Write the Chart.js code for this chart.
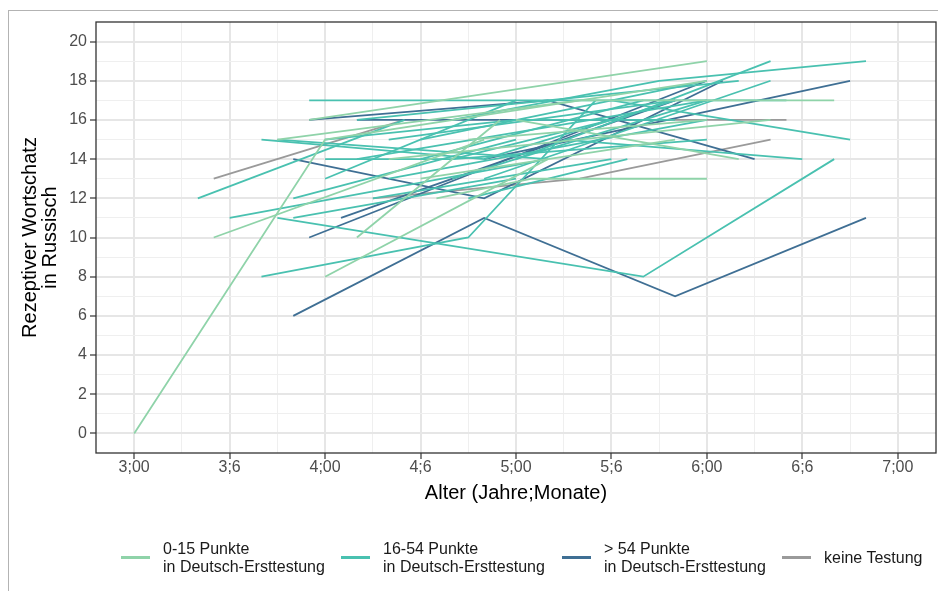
<!DOCTYPE html>
<html>
<head>
<meta charset="utf-8">
<script src="https://cdn.jsdelivr.net/npm/chart.js@4.4.0/dist/chart.umd.min.js"></script>
<style>
html,body{margin:0;padding:0;background:#fff;}
#wrap{position:relative;width:938px;height:591px;overflow:hidden;background:#fff;}
#frame{position:absolute;left:8px;top:10px;width:1000px;height:700px;border:1.5px solid #b3b3b3;box-sizing:border-box;}
#c{position:absolute;left:0;top:0;}
.key{position:absolute;width:29px;height:2.5px;}
.lab{position:absolute;font-family:"Liberation Sans",Arial,sans-serif;font-size:16px;line-height:18px;color:#1a1a1a;white-space:nowrap;}
</style>
</head>
<body>
<div id="wrap">
  <div id="frame"></div>
  <canvas id="c" width="938" height="591"></canvas>
  <div id="legend"></div>
</div>
<script>
// ---------- data (age in months, score) ----------
const groupNames = ['0-15 Punkte\nin Deutsch-Ersttestung', '16-54 Punkte\nin Deutsch-Ersttestung', '> 54 Punkte\nin Deutsch-Ersttestung', 'keine Testung'];
const groupColors = ['#8fd3a9', '#49c1b0', '#3f6f94', '#9a9a9a'];

const group1Children = [
  [[36,0],[48,15],[72,18]],
  [[47,16],[72,19]],
  [[45,15],[64,17]],
  [[41,10],[58,15]],
  [[48,8],[62,14]],
  [[50,10],[59,16]],
  [[55,12],[61,13],[72,13]],
  [[60,16],[74,14]],
  [[52,14],[76,16]],
  [[64,17],[80,17]],
  [[54,13],[70,15]],
  [[57,15],[72,16]]
];
const group2Children = [
  [[47,17],[62,17],[77,17]],
  [[40,12],[53,16]],
  [[45,15],[62,14]],
  [[42,11],[62,14]],
  [[44,8],[57,10],[65,17]],
  [[45,11],[68,8],[80,14]],
  [[46,11],[60,13]],
  [[46,12],[60,15]],
  [[48,14],[56,14],[66,16]],
  [[48,13],[60,17]],
  [[51,12],[66,14]],
  [[60,14],[76,19]],
  [[58,13],[76,18]],
  [[56,16],[69,18],[82,19]],
  [[50,16],[74,18]],
  [[66,17],[81,15]],
  [[63,15],[78,14]],
  [[52,15],[70,17]],
  [[54,14],[68,17]],
  [[56,13],[72,17]],
  [[44,15],[58,14],[70,17]],
  [[57,12],[67,14]],
  [[50,14],[72,17]],
  [[52,13],[72,16]],
  [[54,15],[72,18]],
  [[48,15],[60,16],[70,16]],
  [[56,14],[72,15]]
];
const group3Children = [
  [[46,14],[58,12],[73,18]],
  [[46,6],[58,11],[70,7],[82,11]],
  [[47,10],[72,18]],
  [[49,11],[70,17]],
  [[47,16],[62,17],[75,14]],
  [[50,16],[69,16]],
  [[58,14],[81,18]]
];
const group4Children = [
  [[41,13],[53,16]],
  [[51,12],[64,13],[76,15]],
  [[69,16],[77,16]]
];

const xTickMonths = [36,42,48,54,60,66,72,78,84];
const xTickLabels = ['3;00','3;6','4;00','4;6','5;00','5;6','6;00','6;6','7;00'];
const yTickValues = [0,2,4,6,8,10,12,14,16,18,20];

// ---------- build ----------
const FONT = '"Liberation Sans", Arial, sans-serif';
const allGroups = [group1Children, group2Children, group3Children, group4Children];
const datasets = [];
allGroups.forEach((children, g) => {
  children.forEach(ch => {
    datasets.push({
      data: ch.map(p => ({x: p[0], y: p[1]})),
      borderColor: groupColors[g],
      borderWidth: 1.8,
      pointRadius: 0,
      pointHoverRadius: 0,
      fill: false,
      tension: 0
    });
  });
});

function withMinor(major) {
  const out = [];
  for (let i = 0; i < major.length; i++) {
    out.push(major[i]);
    if (i < major.length - 1) out.push((major[i] + major[i+1]) / 2);
  }
  return out;
}
const xAll = withMinor(xTickMonths);
const yAll = withMinor(yTickValues);
const isMajX = v => xTickMonths.includes(v);
const isMajY = v => yTickValues.includes(v);

const panelBorder = {
  id: 'panelBorder',
  afterDatasetsDraw(chart) {
    const {ctx, chartArea: a} = chart;
    ctx.save();
    ctx.strokeStyle = '#333333';
    ctx.lineWidth = 1.3;
    ctx.strokeRect(a.left, a.top, a.right - a.left, a.bottom - a.top);
    ctx.restore();
  }
};

new Chart(document.getElementById('c'), {
  type: 'line',
  data: {datasets},
  options: {
    responsive: false,
    animation: false,
    devicePixelRatio: 1,
    layout: {padding: {left: 0, top: 22, right: 2, bottom: 78}},
    plugins: {legend: {display: false}, tooltip: {enabled: false}},
    events: [],
    scales: {
      x: {
        type: 'linear', min: 33.6, max: 86.4,
        afterBuildTicks: s => { s.ticks = xAll.map(v => ({value: v})); },
        afterFit: s => { s.height = 60; },
        border: {display: false},
        grid: {
          color: c => isMajX(c.tick.value) ? '#e6e6e6' : '#efefef',
          lineWidth: c => isMajX(c.tick.value) ? 2 : 1,
          tickColor: c => isMajX(c.tick.value) ? '#333333' : 'rgba(0,0,0,0)',
          tickLength: 6, tickWidth: 1.2, drawTicks: true
        },
        ticks: {
          autoSkip: false, maxRotation: 0, minRotation: 0, padding: 1,
          color: '#4d4d4d', font: {family: FONT, size: 16, lineHeight: 1},
          callback: v => { const i = xTickMonths.indexOf(v); return i >= 0 ? xTickLabels[i] : ''; }
        },
        title: {display: true, text: 'Alter (Jahre;Monate)', color: '#000',
          font: {family: FONT, size: 20, lineHeight: 1}, padding: {top: 0, bottom: 10}}
      },
      y: {
        type: 'linear', min: -1, max: 21,
        afterBuildTicks: s => { s.ticks = yAll.map(v => ({value: v})); },
        afterFit: s => { s.width = 96; },
        border: {display: false},
        grid: {
          color: c => isMajY(c.tick.value) ? '#e6e6e6' : '#efefef',
          lineWidth: c => isMajY(c.tick.value) ? 2 : 1,
          tickColor: c => isMajY(c.tick.value) ? '#333333' : 'rgba(0,0,0,0)',
          tickLength: 6, tickWidth: 1.2, drawTicks: true
        },
        ticks: {
          autoSkip: false, padding: 3,
          color: '#4d4d4d', font: {family: FONT, size: 16, lineHeight: 1},
          callback: v => isMajY(v) ? String(v) : ''
        },
        title: {display: true, text: ['Rezeptiver Wortschatz', 'in Russisch'], color: '#000',
          font: {family: FONT, size: 20, lineHeight: 1}, padding: {top: 20, bottom: 0}}
      }
    }
  },
  plugins: [panelBorder]
});

// ---------- legend (HTML) ----------
const legendKeyX = [121, 341, 562, 782];
const legendTextX = [163, 383, 604, 824];
const leg = document.getElementById('legend');
groupNames.forEach((name, i) => {
  const k = document.createElement('div');
  k.className = 'key';
  k.style.left = legendKeyX[i] + 'px';
  k.style.top = '556px';
  k.style.background = groupColors[i];
  leg.appendChild(k);
  const t = document.createElement('div');
  t.className = 'lab';
  const lines = name.split('\n');
  t.style.left = legendTextX[i] + 'px';
  t.style.top = (lines.length > 1 ? 540 : 549) + 'px';
  t.innerHTML = lines.join('<br>');
  leg.appendChild(t);
});
</script>
</body>
</html>
